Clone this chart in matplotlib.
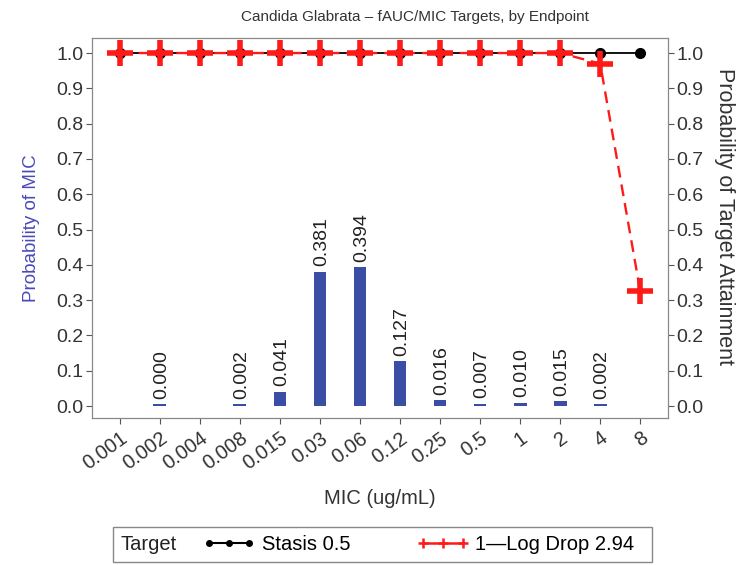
import matplotlib.pyplot as plt
from matplotlib.patches import Rectangle

plt.rcParams['font.family'] = ['Liberation Sans', 'DejaVu Sans']

mic_labels = ['0.001', '0.002', '0.004', '0.008', '0.015', '0.03', '0.06',
              '0.12', '0.25', '0.5', '1', '2', '4', '8']
# probability of MIC (None = no bar)
prob_mic = [None, 0.000, None, 0.002, 0.041, 0.381, 0.394, 0.127,
            0.016, 0.007, 0.010, 0.015, 0.002, None]
stasis = [1.0] * 14
log_drop = [1.0, 1.0, 1.0, 1.0, 1.0, 1.0, 1.0, 1.0, 1.0, 1.0, 1.0, 1.0, 0.97, 0.326]

blue = '#3b4ea6'
fig = plt.figure(figsize=(7.4, 5.65), dpi=100)
ax = fig.add_axes([0.124, 0.26, 0.779, 0.673])
ax2 = ax.twinx()

x = list(range(len(mic_labels)))
bx = [i for i, v in zip(x, prob_mic) if v is not None]
bv = [v for v in prob_mic if v is not None]
ax.bar(bx, [max(v, 0.006) for v in bv], width=0.32, color=blue, zorder=2)
for i, v in zip(bx, bv):
    ax.text(i + 0.05, max(v, 0.006) + 0.015, f'{v:.3f}', rotation=90, ha='center', va='bottom',
            fontsize=14, color='#222222')

ax2.plot(x, stasis, color='black', marker='o', markersize=7, lw=1.3, zorder=3)
ax2.plot(x, log_drop, color='#ff1a1a', marker='+', markersize=19, markeredgewidth=4,
         lw=1.7, ls=(0, (5, 3)), zorder=4)

for a in (ax, ax2):
    a.set_ylim(-0.034, 1.043)
    a.set_yticks([i / 10 for i in range(11)])
    a.set_yticklabels([f'{i / 10:.1f}' for i in range(11)], fontsize=14, color='#333333')
    a.tick_params(axis='y', colors='#555555', labelcolor='#333333', length=4, pad=2)
    for s in a.spines.values():
        s.set_color('#888888')
ax.set_xlim(-0.7, 13.7)
ax.set_xticks(x)
ax.set_xticklabels(mic_labels, rotation=36, ha='right', rotation_mode='anchor',
                   fontsize=14.5, color='#333333')
ax.tick_params(axis='x', colors='#555555', labelcolor='#333333', length=4)

ax.set_ylabel('Probability of MIC', color='#4a4ab8', fontsize=13.5)
ax.yaxis.set_label_coords(-0.09, 0.5)
ax2.set_ylabel('Probability of Target Attainment', rotation=-90, va='center', ha='center',
               fontsize=15.5, color='#333333')
ax2.yaxis.set_label_coords(1.097, 0.53)
ax.set_xlabel('MIC (ug/mL)', fontsize=14.5, color='#333333', labelpad=11)
fig.text(0.561, 0.97, 'Candida Glabrata \u2013 fAUC/MIC Targets, by Endpoint',
         ha='center', va='center', fontsize=11, color='#333333')

# legend box
fig.patches.append(Rectangle((0.153, 0.006), 0.728, 0.062, transform=fig.transFigure,
                             fill=False, ec='#888888', lw=1))
fig.text(0.163, 0.037, 'Target', ha='left', va='center', fontsize=14.5, color='#222222')
h1, = ax2.plot([], [], color='black', marker='o', markersize=4, lw=1.5)
h2, = ax2.plot([], [], color='#ff1a1a', marker='+', markersize=7, markeredgewidth=1.8, lw=1.8)
fig.legend([h1, h2], ['Stasis 0.5', '1\u2014Log Drop 2.94'], loc='center left',
           bbox_to_anchor=(0.25, 0.037), ncol=2, frameon=False, numpoints=3,
           handlelength=2.6, handletextpad=0.3, columnspacing=3.3, fontsize=14.5)

fig.savefig('out.png', dpi=100)
